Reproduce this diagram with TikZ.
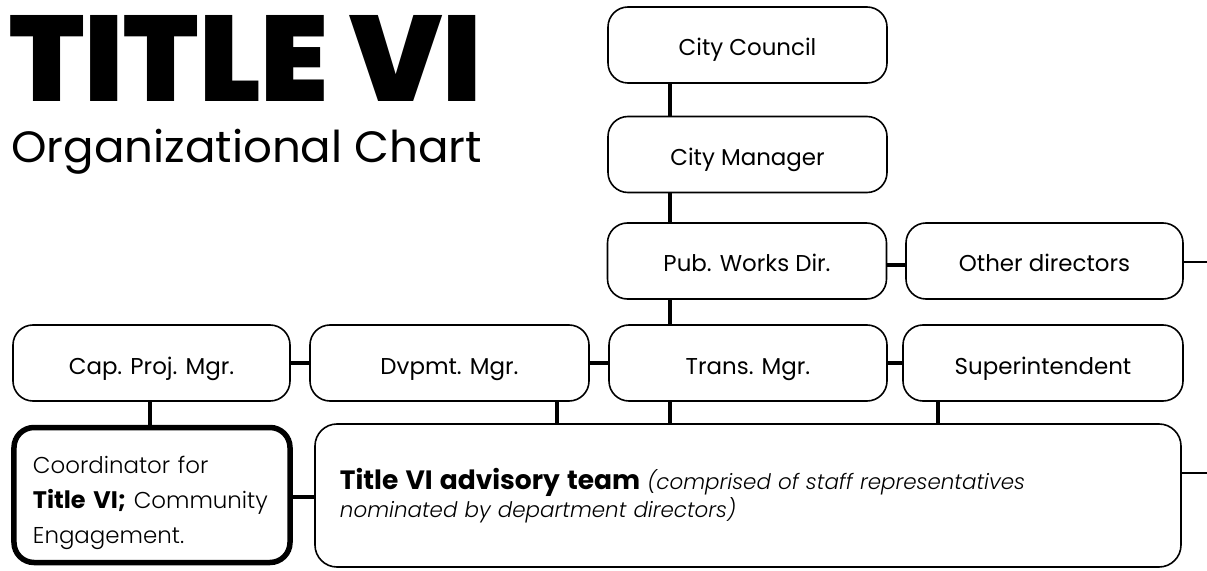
\documentclass[tikz,border=0pt]{standalone}
\usepackage{fontspec}
\setmainfont{Poppins}[ItalicFont=* Light Italic, BoldFont=* Bold]
\newfontfamily\titlefont{Poppins Black}
\newfontfamily\lightfont{Poppins Light}[BoldFont=Poppins Bold]
\usetikzlibrary{calc}
\tikzset{
  box/.style={draw=black, line width=1.6bp, rounded corners=20bp, minimum height=76bp, inner sep=0pt, text height=24bp, text depth=2bp, font=\fontsize{23}{26}\selectfont},
  link/.style={draw=black, line width=3.2bp},
}
\begin{document}
\begin{tikzpicture}[x=1bp, y=-1bp]
\useasboundingbox (0,0) rectangle (1207,571);
% title
\node[anchor=base west, inner sep=0pt, font=\titlefont\fontsize{122}{122}\selectfont] (title) at (9,102) {\scalebox{1.005}[1]{TITLE VI}};
\node[anchor=base west, inner sep=0pt, font=\fontsize{44}{50}\selectfont] (subtitle) at (11,163) {\scalebox{1.03}[1]{Organizational Chart}};
% boxes
\node[box, minimum width=279bp] (council) at (747.5,45) {City Council};
\node[box, minimum width=279bp] (manager) at (747.5,154.5) {City Manager};
\node[box, minimum width=279bp] (pubworks) at (747,261) {Pub. Works Dir.};
\node[box, minimum width=277bp] (other) at (1044.5,261) {Other directors};
\node[box, minimum width=277bp] (cap) at (151.5,363) {Cap. Proj. Mgr.};
\node[box, minimum width=279bp] (dvpmt) at (449.5,363) {Dvpmt. Mgr.};
\node[box, minimum width=278bp] (trans) at (748,363) {Trans. Mgr.};
\node[box, minimum width=280bp] (super) at (1043,363) {Superintendent};
\node[box, line width=5.5bp, minimum width=276bp, minimum height=135bp, text width=238bp, text height=, text depth=, align=left, font=\lightfont\fontsize{23}{35}\selectfont] (coord) at (152,495) {\raisebox{0pt}[0pt][0pt]{}\\[-2bp]Coordinator for\\{\fontsize{24}{35}\selectfont\textbf{Title VI;}} Community\\Engagement.};
\node[box, rounded corners=22bp, minimum width=866bp, minimum height=143bp, text width=816bp, text height=, text depth=, align=left, font=\fontsize{21.5}{28}\selectfont] (advisory) at (748,495.5) {{\fontsize{26.6}{28}\selectfont\textbf{Title VI advisory team}} \textit{(comprised of staff representatives}\\\textit{nominated by department directors)}};
% helper coordinates
\coordinate (trunk) at (670,0);
\coordinate (capx) at (150,0);
\coordinate (dvx) at (557,0);
\coordinate (supx) at (938,0);
\coordinate (endA) at (1207,262);
\coordinate (endB) at (1207,473);
\coordinate (rowA) at (0,265);
\coordinate (rowC) at (0,497);
% connectors
\draw[link] (council.south -| trunk) -- (manager.north -| trunk);
\draw[link] (manager.south -| trunk) -- (pubworks.north -| trunk);
\draw[link] (pubworks.south -| trunk) -- (trans.north -| trunk);
\draw[link] (trans.south -| trunk) -- (advisory.north -| trunk);
\draw[link] (pubworks.east |- rowA) -- (other.west |- rowA);
\draw[link, line width=2.2bp] (other.east |- endA) -- (endA);
\draw[link] (cap.east) -- (dvpmt.west);
\draw[link] (dvpmt.east) -- (trans.west);
\draw[link] (trans.east) -- (super.west);
\draw[link] (cap.south -| capx) -- (coord.north -| capx);
\draw[link] (dvpmt.south -| dvx) -- (advisory.north -| dvx);
\draw[link] (super.south -| supx) -- (advisory.north -| supx);
\draw[link] (coord.east |- rowC) -- (advisory.west |- rowC);
\draw[link, line width=2.2bp] (advisory.east |- endB) -- (endB);
\end{tikzpicture}
\end{document}
